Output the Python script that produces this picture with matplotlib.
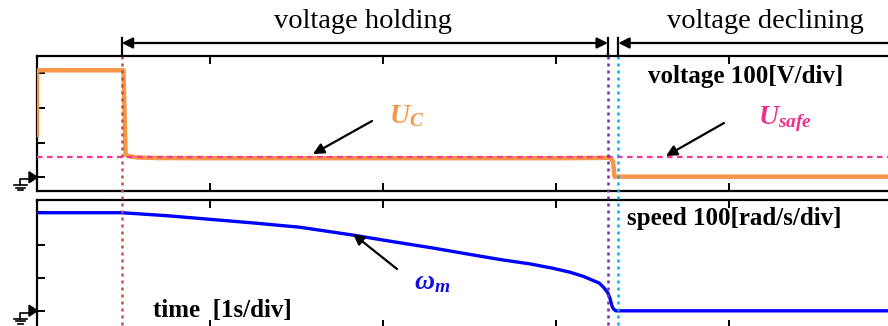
import matplotlib
matplotlib.use("Agg")
import matplotlib.pyplot as plt
from matplotlib.lines import Line2D
from matplotlib.patches import Polygon, FancyArrowPatch
from matplotlib.transforms import blended_transform_factory

plt.rcParams["font.family"] = ["Liberation Serif", "DejaVu Serif"]
plt.rcParams["mathtext.fontset"] = "custom"
plt.rcParams["mathtext.it"] = "Liberation Serif:italic:bold"
plt.rcParams["mathtext.rm"] = "Liberation Serif:bold"

# Capacitor voltage U_C [V] over time [s]
uc_t = [0.0, 0.0, 0.500, 0.512, 0.53, 0.58, 0.70, 1.0, 2.0, 3.0, 3.315, 3.330, 3.338, 4.92]
uc_v = [121, 307, 307, 65, 61, 57, 55.5, 55, 55, 55, 56, 45, 2, 2]

# Safe voltage threshold [V]
u_safe = 57.5

# Motor speed omega_m [rad/s] over time [s]
sp_t = [0.0, 0.49, 0.75, 1.0, 1.25, 1.52, 1.83, 2.05, 2.29, 2.50, 2.68, 2.85,
        2.98, 3.08, 3.16, 3.20, 3.25, 3.277, 3.30, 3.312, 3.322, 3.33, 3.345, 4.92]
sp_v = [297, 297, 288, 277, 266, 253, 229, 210, 190, 171, 155, 142,
        129, 117, 104, 95, 84, 70, 54, 38, 17, 7, 0, 0]

# Event instants [s]: holding starts, holding ends, declining starts
t_hold = 0.49
t_end = 3.30
t_decl = 3.36

x_ticks = [1, 2, 3, 4]
v_ticks = [0, 100, 200, 300]
s_ticks = [0, 100, 200, 300]

W, H = 888, 326
fig = plt.figure(figsize=(W / 100, H / 100), dpi=100)


def fx(x):
    return x / W


def fy(y):
    return 1 - y / H


ax1 = fig.add_axes([fx(37), fy(191), 1 - fx(37), (191 - 56) / H])
ax2 = fig.add_axes([fx(37), fy(328), 1 - fx(37), (328 - 199.5) / H])

xmax = (W - 37) / 173.0
for ax in (ax1, ax2):
    ax.set_xlim(0, xmax)
    ax.set_xticks(x_ticks)
    ax.spines["right"].set_visible(False)
    for s in ("left", "top", "bottom"):
        ax.spines[s].set_linewidth(1.6)
    ax.tick_params(direction="in", length=6, width=1.4, top=True, bottom=True,
                   left=True, right=False, labelbottom=False, labelleft=False)

ax1.set_ylim(-39, 348)
ax1.set_yticks(v_ticks)
ax2.set_ylim(-52, 337)
ax2.set_yticks(s_ticks)

# traces
ax1.axhline(u_safe, color="#FF3399", lw=1.6, ls=(0, (2.5, 2)), zorder=4)
ax1.plot(uc_t, uc_v, color="#F79646", lw=3.2, zorder=3, solid_joinstyle="round")
ax2.plot(sp_t, sp_v, color="#0000FF", lw=2.4, zorder=3, solid_joinstyle="round")

# event markers spanning both panels
tr = blended_transform_factory(ax1.transData, fig.transFigure)
for t, col in ((t_hold, "#C0504D"), (t_end, "#7030A0"), (t_decl, "#00B0F0")):
    fig.add_artist(Line2D([t, t], [fy(56), 0], transform=tr, color=col, lw=1.8,
                          ls=(0, (1.2, 1.6)), zorder=2))
    fig.add_artist(Line2D([t, t], [fy(38), fy(56)], transform=tr, color="black",
                          lw=1.6))

# phase arrows
ya = fy(43)
fig.add_artist(FancyArrowPatch(
    (t_hold, ya), (t_end, ya), transform=tr, arrowstyle="<|-|>",
    mutation_scale=16, lw=1.6, color="black", shrinkA=0, shrinkB=0))
fig.add_artist(FancyArrowPatch(
    (t_decl, ya), (xmax + 0.2, ya), transform=tr, arrowstyle="<|-",
    mutation_scale=16, lw=1.6, color="black", shrinkA=0, shrinkB=0))

fig.text(fx(363), fy(21), "voltage holding", ha="center", va="center", fontsize=20.5)
fig.text(fx(765), fy(21), "voltage declining", ha="center", va="center", fontsize=20.5)

fig.text(fx(648), fy(76), "voltage 100[V/div]", ha="left", va="center",
         fontsize=18, fontweight="bold")
fig.text(fx(627), fy(219), "speed 100[rad/s/div]", ha="left", va="center",
         fontsize=18, fontweight="bold")
fig.text(fx(153), fy(310), "time  [1s/div]", ha="left", va="center",
         fontsize=18, fontweight="bold")

# trace labels with pointers
fig.text(fx(389), fy(116), r"$U_C$", ha="left", va="center", fontsize=20,
         color="#F79646")
fig.text(fx(758), fy(119), r"$U_{safe}$", ha="left", va="center", fontsize=20,
         color="#F0308C")
fig.text(fx(414), fy(283), r"$\omega_m$", ha="left", va="center", fontsize=20,
         color="#1010E0")

for (x0, y0), (x1, y1) in (((372, 121), (313, 154)), ((724, 123), (666, 156)),
                           ((397, 269), (353, 234))):
    fig.add_artist(FancyArrowPatch(
        (fx(x0), fy(y0)), (fx(x1), fy(y1)), transform=fig.transFigure,
        arrowstyle="-|>", mutation_scale=16, lw=1.6, color="black",
        shrinkA=0, shrinkB=0))

# ground reference symbols
for g in (177.3, 310.7):
    fig.add_artist(Polygon([(fx(29), fy(g - 5.5)), (fx(29), fy(g + 5.5)), (fx(37.5), fy(g))],
                           closed=True, transform=fig.transFigure, color="black"))
    fig.add_artist(Line2D([fx(31), fx(20), fx(20)], [fy(g + 2), fy(g + 2), fy(g + 8)],
                          transform=fig.transFigure, color="black", lw=1.2))
    for dy, half in ((8, 6.5), (10.5, 4.5), (13, 2.5)):
        fig.add_artist(Line2D([fx(20 - half), fx(20 + half)], [fy(g + dy), fy(g + dy)],
                              transform=fig.transFigure, color="black", lw=1.2))

fig.savefig("out.png", dpi=100)
